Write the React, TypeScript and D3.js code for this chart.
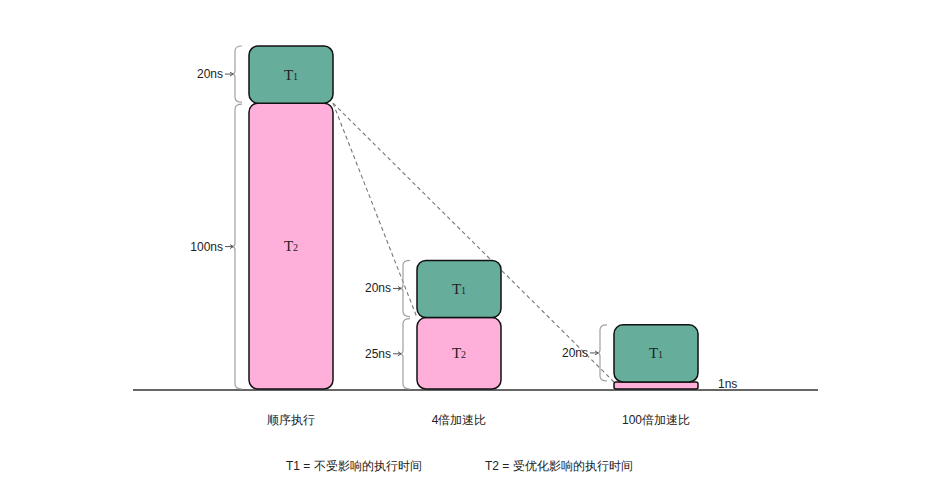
import React from "react";
import * as d3 from "d3";

const categories = ["顺序执行", "4倍加速比", "100倍加速比"];
const t1Values = [20, 20, 20];
const t2Values = [100, 25, 1];
const legendItems = ["T1 = 不受影响的执行时间", "T2 = 受优化影响的执行时间"];

const W = 939;
const H = 477;
const baseY = 389;
const barW = 84;

const xScale = d3.scaleOrdinal<string, number>().domain(categories).range([291, 459, 656]);
const yScale = d3.scaleLinear().domain([0, 120]).range([baseY, 46]);

const GREEN = "#66ad9c";
const PINK = "#ffb0da";
const SANS = "'Liberation Sans', Arial, Helvetica, sans-serif";

function bracePath(x: number, y0: number, y1: number) {
  const w = 7;
  const r = 5;
  const ym = (y0 + y1) / 2;
  return `M${x + w},${y0} Q${x},${y0} ${x},${y0 + r} L${x},${ym - 3} Q${x},${ym} ${x - 3},${ym} Q${x},${ym} ${x},${ym + 3} L${x},${y1 - r} Q${x},${y1} ${x + w},${y1}`;
}

function Brace({ x, y0, y1, label }: { x: number; y0: number; y1: number; label: string }) {
  const ym = (y0 + y1) / 2;
  return (
    <g>
      <path d={bracePath(x, y0, y1)} fill="none" stroke="#a0a0a0" strokeWidth={1.2} />
      <line x1={x - 10} x2={x - 2} y1={ym} y2={ym} stroke="#555" strokeWidth={1} />
      <path d={`M${x - 5},${ym - 2} L${x - 2},${ym} L${x - 5},${ym + 2}`} fill="none" stroke="#555" strokeWidth={1} />
      <text x={x - 12} y={ym + 4} textAnchor="end" fontSize={12} fontFamily={SANS} fill="#222">
        {label}
      </text>
    </g>
  );
}

function SubLabel({ x, y, sub }: { x: number; y: number; sub: string }) {
  return (
    <text x={x} y={y} textAnchor="middle" fontFamily="'Liberation Serif', 'DejaVu Serif', serif" fill="#222">
      <tspan fontSize={15}>T</tspan>
      <tspan fontSize={10}>{sub}</tspan>
    </text>
  );
}

export default function App() {
  const bars = categories.map((c, i) => {
    const cx = xScale(c);
    const x0 = cx - barW / 2;
    const t2h = Math.max(baseY - yScale(t2Values[i]), 7);
    const t2Top = baseY - t2h;
    const t1h = baseY - yScale(t1Values[i]);
    const t1Top = t2Top - t1h;
    return { c, i, cx, x0, t2Top, t2h, t1Top, t1h };
  });

  const b0 = bars[0];
  return (
    <svg width={W} height={H} style={{ position: "absolute", left: 0, top: 0, background: "#fff" }}>
      <line x1={133} x2={818} y1={baseY + 1} y2={baseY + 1} stroke="#333" strokeWidth={1.5} />
      {bars.slice(1).map((b) => (
        <line
          key={"d" + b.i}
          x1={b0.x0 + barW}
          y1={b0.t2Top}
          x2={b.x0}
          y2={b.t2Top}
          stroke="#777"
          strokeWidth={1.1}
          strokeDasharray="4,3"
        />
      ))}
      {bars.map((b) => (
        <g key={b.c}>
          <rect x={b.x0} y={b.t2Top} width={barW} height={b.t2h} rx={b.t2h > 20 ? 9 : 2} fill={PINK} stroke="#111" strokeWidth={1.5} />
          <rect x={b.x0} y={b.t1Top} width={barW} height={b.t1h} rx={9} fill={GREEN} stroke="#111" strokeWidth={1.5} />
          <SubLabel x={b.cx} y={b.t1Top + b.t1h / 2 + 5} sub="1" />
          {b.t2h > 20 && <SubLabel x={b.cx} y={b.t2Top + b.t2h / 2 + 5} sub="2" />}
          <Brace x={b.x0 - 14} y0={b.t1Top} y1={b.t2Top - 1} label={`${t1Values[b.i]}ns`} />
          {b.t2h > 20 ? (
            <Brace x={b.x0 - 14} y0={b.t2Top + 1} y1={baseY} label={`${t2Values[b.i]}ns`} />
          ) : (
            <text x={b.x0 + barW + 20} y={baseY - 1} fontSize={12} fontFamily={SANS} fill="#222">
              {`${t2Values[b.i]}ns`}
            </text>
          )}
          <text x={b.cx} y={424} textAnchor="middle" fontSize={12} fontFamily={SANS} fill="#222">
            {b.c}
          </text>
        </g>
      ))}
      {legendItems.map((t, i) => (
        <text key={t} x={286 + i * 199} y={470} fontSize={12} fontFamily={SANS} fill="#222">
          {t}
        </text>
      ))}
    </svg>
  );
}
